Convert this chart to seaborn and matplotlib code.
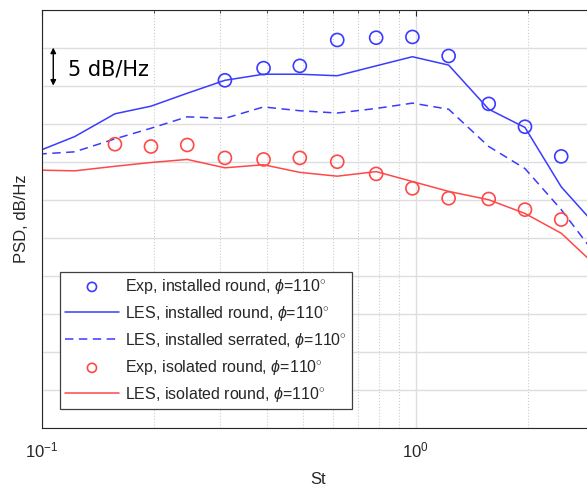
import matplotlib
matplotlib.use("Agg")
import matplotlib.pyplot as plt
import numpy as np
import pandas as pd
import seaborn as sns
from matplotlib.ticker import FixedLocator, NullFormatter, LogFormatterSciNotation

# Strouhal numbers of the measured bands
st_exp_installed = [0.309, 0.392, 0.49, 0.617, 0.784, 0.98, 1.225, 1.568, 1.96, 2.45]
psd_exp_installed = [45.7, 47.3, 47.6, 51.0, 51.3, 51.4, 48.9, 42.6, 39.6, 35.7]

st_exp_isolated = [0.157, 0.196, 0.245, 0.309, 0.392, 0.49, 0.617, 0.784, 0.98,
                   1.225, 1.568, 1.96, 2.45]
psd_exp_isolated = [37.3, 37.0, 37.2, 35.5, 35.3, 35.5, 35.0, 33.4, 31.5,
                    30.2, 30.1, 28.7, 27.4]

# LES spectra
st_les = [0.098, 0.1225, 0.157, 0.196, 0.245, 0.309, 0.392, 0.49, 0.617, 0.784,
          0.98, 1.225, 1.568, 1.96, 2.45, 3.1]
psd_les_installed_round = [36.4, 38.3, 41.3, 42.3, 44.0, 45.7, 46.5, 46.5, 46.3, 47.6,
                           48.8, 47.7, 41.9, 39.5, 31.7, 26.1]
psd_les_installed_serrated = [36.0, 36.3, 38.0, 39.4, 40.9, 40.7, 42.2, 41.7, 41.4, 42.0,
                              42.7, 41.9, 37.0, 34.1, 28.7, 22.1]
psd_les_isolated_round = [33.9, 33.8, 34.4, 34.9, 35.3, 34.2, 34.6, 33.6, 33.1, 33.7,
                          32.4, 31.1, 30.0, 28.2, 25.6, 20.9]

labels = [
    r"Exp, installed round, $\phi$=110$^{\circ}$",
    r"LES, installed round, $\phi$=110$^{\circ}$",
    r"LES, installed serrated, $\phi$=110$^{\circ}$",
    r"Exp, isolated round, $\phi$=110$^{\circ}$",
    r"LES, isolated round, $\phi$=110$^{\circ}$",
]

BLUE = "#3b3bff"
RED = "#ff4848"
DARK = "#262626"

sns.set_theme(style="white")
plt.rcParams["font.family"] = ["Liberation Sans", "DejaVu Sans"]
plt.rcParams["mathtext.fontset"] = "custom"
plt.rcParams["mathtext.rm"] = "Liberation Sans"
plt.rcParams["mathtext.it"] = "Liberation Sans:italic"
plt.rcParams["mathtext.default"] = "it"

fig = plt.figure(figsize=(5.87, 4.9), dpi=100)
ax = fig.add_axes([0.071, 0.1265, 0.96, 0.854])

les = pd.DataFrame({
    "St": st_les,
    "inst_round": psd_les_installed_round,
    "inst_serr": psd_les_installed_serrated,
    "iso_round": psd_les_isolated_round,
})

sns.scatterplot(x=st_exp_installed, y=psd_exp_installed, ax=ax, marker="o", s=88,
                fc="none", ec=BLUE, linewidth=1.2, label=labels[0], zorder=3)
sns.lineplot(data=les, x="St", y="inst_round", ax=ax, color=BLUE, lw=1.1,
             sort=False, estimator=None, label=labels[1])
sns.lineplot(data=les, x="St", y="inst_serr", ax=ax, color=BLUE, lw=1.1,
             ls=(0, (5.5, 3.6)), sort=False, estimator=None, label=labels[2])
sns.scatterplot(x=st_exp_isolated, y=psd_exp_isolated, ax=ax, marker="o", s=88,
                fc="none", ec=RED, linewidth=1.2, label=labels[3], zorder=3)
sns.lineplot(data=les, x="St", y="iso_round", ax=ax, color=RED, lw=1.1,
             sort=False, estimator=None, label=labels[4])

ax.set_xscale("log")
xmax = 10 ** (-1 + 0.96 * 587 / 374)
ax.set_xlim(0.1, xmax)
ax.set_ylim(0, 55)

ax.xaxis.set_major_locator(FixedLocator([0.1, 1.0]))
ax.xaxis.set_major_formatter(LogFormatterSciNotation())
ax.xaxis.set_minor_locator(FixedLocator([0.2, 0.3, 0.4, 0.5, 0.6, 0.7, 0.8, 0.9, 2, 3]))
ax.xaxis.set_minor_formatter(NullFormatter())
ax.set_yticks(np.arange(0, 56, 5))
ax.tick_params(axis="y", labelleft=False)

ax.tick_params(which="both", direction="in", top=True, right=False,
               color=DARK, labelsize=12, labelcolor=DARK, pad=9)
ax.tick_params(which="major", length=4, width=0.8)
ax.tick_params(which="minor", length=2.5, width=0.6)

ax.grid(True, which="major", axis="both", color="#dedede", lw=1.0, ls="-")
ax.grid(True, which="minor", axis="x", color="#cccccc", lw=0.8, ls=":")
ax.set_axisbelow(True)

for side in ["left", "bottom", "top"]:
    ax.spines[side].set_color(DARK)
    ax.spines[side].set_linewidth(0.8)
ax.spines["right"].set_visible(False)

ax.set_xlabel("St", fontsize=12, color=DARK)
ax.set_ylabel("PSD, dB/Hz", fontsize=12, color=DARK)
ax.xaxis.set_label_coords(0.4903, -0.122)
ax.xaxis.label.set_va("center")
ax.yaxis.set_label_coords(-0.035, 0.5)
ax.yaxis.label.set_va("center")

# 5 dB/Hz scale marker
ax.annotate("", xy=(0.1074, 50), xytext=(0.1074, 45),
            arrowprops=dict(arrowstyle="<|-|>", color="black", lw=1.0,
                            shrinkA=0, shrinkB=0, mutation_scale=8))
ax.text(0.1176, 47.1, "5 dB/Hz", fontsize=15, va="center", ha="left",
        family="DejaVu Sans", color="black")

handles, labs = ax.get_legend_handles_labels()
order = [labs.index(l) for l in labels]
leg = ax.legend([handles[i] for i in order], [labs[i] for i in order],
                loc="upper left", bbox_to_anchor=(60 / 587, (490 - 272.3) / 490),
                bbox_transform=fig.transFigure, fontsize=11.5, frameon=True,
                fancybox=False, framealpha=1, edgecolor="#404040",
                handlelength=3.4, handletextpad=0.4, labelspacing=0.5,
                borderpad=0.3, borderaxespad=0, markerscale=0.7)
leg.get_frame().set_linewidth(0.9)
for t in leg.get_texts():
    t.set_color(DARK)

fig.savefig("out.png", dpi=100)
